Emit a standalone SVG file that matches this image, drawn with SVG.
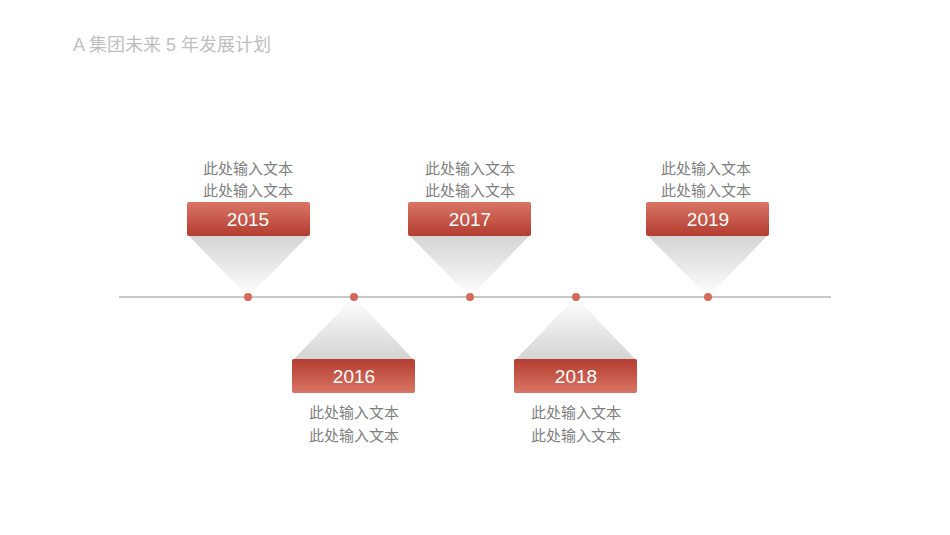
<svg xmlns="http://www.w3.org/2000/svg" width="950" height="535" viewBox="0 0 950 535">
<style>
.t{font-family:"Liberation Sans","Noto Sans CJK SC",sans-serif;font-size:15px;fill:#7f7f7f;text-anchor:middle}
.y{font-family:"Liberation Sans",sans-serif;font-size:19px;fill:#fff;text-anchor:middle}
.d{fill:#d46a5c}
</style>
<defs>
<linearGradient id="bu" x1="0" y1="0" x2="0" y2="1"><stop offset="0" stop-color="#da7565"/><stop offset="1" stop-color="#b33d30"/></linearGradient>
<linearGradient id="bd" x1="0" y1="0" x2="0" y2="1"><stop offset="0" stop-color="#b33d30"/><stop offset="1" stop-color="#da7565"/></linearGradient>
<linearGradient id="fu" x1="0" y1="0" x2="0" y2="1"><stop offset="0" stop-color="#d4d4d4"/><stop offset="1" stop-color="#fff"/></linearGradient>
<linearGradient id="fd" x1="0" y1="1" x2="0" y2="0"><stop offset="0" stop-color="#d4d4d4"/><stop offset="1" stop-color="#fff"/></linearGradient>
</defs>
<rect width="950" height="535" fill="#fff"/>
<text x="73" y="51" font-family="Liberation Sans,Noto Sans CJK SC,sans-serif" font-size="18" fill="#bfbfbf">A 集团未来 5 年发展计划</text>
<g id="connectors">
<line x1="119" y1="297" x2="831" y2="297" stroke="#c8c8c8" stroke-width="2"/>
</g>
<g id="n2015">
<polygon points="189,236 308,236 248,297" fill="url(#fu)"/>
<rect x="187" y="202" width="123" height="34" rx="2" fill="url(#bu)"/>
<text class="y" x="248" y="226">2015</text>
<text class="t" x="248" y="174">此处输入文本</text><text class="t" x="248" y="196">此处输入文本</text>
<circle class="d" cx="248" cy="297" r="4"/>
</g>
<g id="n2016">
<polygon points="294,359 413,359 354,297" fill="url(#fd)"/>
<rect x="292" y="359" width="123" height="34" rx="2" fill="url(#bd)"/>
<text class="y" x="354" y="383">2016</text>
<text class="t" x="354" y="418">此处输入文本</text><text class="t" x="354" y="441">此处输入文本</text>
<circle class="d" cx="354" cy="297" r="4"/>
</g>
<g id="n2017">
<polygon points="410,236 529,236 470,297" fill="url(#fu)"/>
<rect x="408" y="202" width="123" height="34" rx="2" fill="url(#bu)"/>
<text class="y" x="470" y="226">2017</text>
<text class="t" x="470" y="174">此处输入文本</text><text class="t" x="470" y="196">此处输入文本</text>
<circle class="d" cx="470" cy="297" r="4"/>
</g>
<g id="n2018">
<polygon points="516,359 635,359 576,297" fill="url(#fd)"/>
<rect x="514" y="359" width="123" height="34" rx="2" fill="url(#bd)"/>
<text class="y" x="576" y="383">2018</text>
<text class="t" x="576" y="418">此处输入文本</text><text class="t" x="576" y="441">此处输入文本</text>
<circle class="d" cx="576" cy="297" r="4"/>
</g>
<g id="n2019">
<polygon points="648,236 767,236 708,297" fill="url(#fu)"/>
<rect x="646" y="202" width="123" height="34" rx="2" fill="url(#bu)"/>
<text class="y" x="708" y="226">2019</text>
<text class="t" x="706" y="174">此处输入文本</text><text class="t" x="706" y="196">此处输入文本</text>
<circle class="d" cx="708" cy="297" r="4"/>
</g>
</svg>
